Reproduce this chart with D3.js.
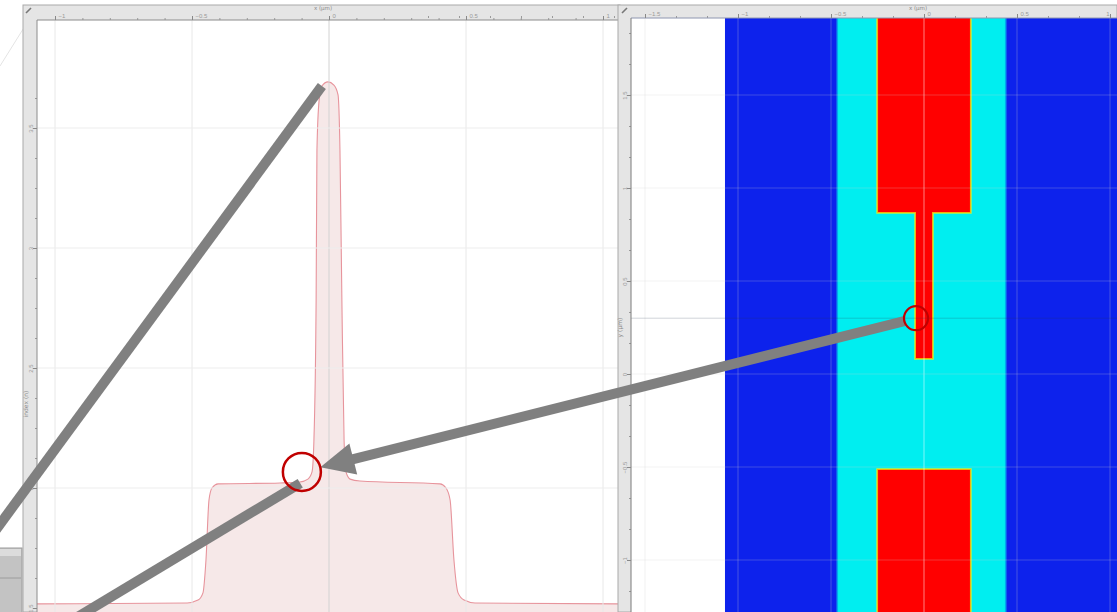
<!DOCTYPE html>
<html>
<head>
<meta charset="utf-8">
<script src="https://cdn.jsdelivr.net/npm/d3@7/dist/d3.min.js"></script>
<style>
  body { margin: 0; background: #fff; }
  svg { display: block; font-family: "DejaVu Sans", sans-serif; }
</style>
</head>
<body>
<div id="chart"></div>
<script>
// cross-section of the index along the cut line (x in um, n)
var profileX = [-1.066, -0.518, -0.478, -0.460, -0.449, -0.438, -0.427, -0.405, -0.179, -0.106,
  -0.077, -0.062, -0.055, -0.047, -0.044, -0.036, -0.026, -0.004, 0.018, 0.033, 0.040, 0.047,
  0.055, 0.062, 0.077, 0.113, 0.405, 0.427, 0.442, 0.456, 0.471, 0.493, 0.533, 1.062];
var profileN = [1.517, 1.521, 1.533, 1.563, 1.700, 1.950, 2.000, 2.017, 2.021, 2.025,
  2.037, 2.067, 2.200, 2.783, 3.408, 3.617, 3.675, 3.692, 3.679, 3.638, 3.408, 2.783,
  2.200, 2.067, 2.037, 2.029, 2.017, 2.000, 1.950, 1.700, 1.563, 1.533, 1.521, 1.517];

var lineTicksX = [-1, -0.5, 0, 0.5, 1];
var lineTicksN = [1.5, 2, 2.5, 3, 3.5];
var mapTicksX = [-1.5, -1, -0.5, 0, 0.5, 1];
var mapTicksY = [1.5, 1, 0.5, 0, -0.5, -1];

// structures seen in the index map (um)
var structName = ['cladding', 'core', 'top pad', 'stem', 'bottom pad'];
var structX0 = [-1.07, -0.462, -0.247, -0.043, -0.247];
var structX1 = [1.3, 0.435, 0.247, 0.043, 0.247];
var structY0 = [-1.5, -1.5, 0.871, 0.086, -1.5];
var structY1 = [2.1, 2.1, 2.1, 0.871, -0.516];
var structN = [1.517, 2.02, 3.69, 3.69, 3.69];

var cutY = 0.3;
var markLine = {x: -0.099, n: 2.067};
var markMap = {x: -0.043, y: 0.3};

var W = 1117, H = 612;
var svg = d3.select('#chart').append('svg').attr('width', W).attr('height', H);

var lp = {left: 37, top: 20, right: 618, bottom: 612};
var rp = {left: 631, top: 18, right: 1117, bottom: 612};

var xLine = d3.scaleLinear().domain([-1, 1]).range([55, 603]);
var yLine = d3.scaleLinear().domain([1.5, 3.5]).range([608, 128]);
var xMap = d3.scaleLinear().domain([-1.5, 1]).range([645, 1110]);
var yMap = d3.scaleLinear().domain([0, 1]).range([374, 188]);
var colorN = d3.scaleLinear()
    .domain([1.517, 2.02, 2.5, 3.05, 3.69])
    .range(['#0a22ec', '#04eef0', '#7dff80', '#ffe400', '#ff0500'])
    .clamp(true);
var fmt = d3.format('~g');

var defs = svg.append('defs');
defs.append('clipPath').attr('id', 'clipL').append('rect')
    .attr('x', lp.left).attr('y', lp.top)
    .attr('width', lp.right - lp.left).attr('height', lp.bottom - lp.top);
defs.append('clipPath').attr('id', 'clipR').append('rect')
    .attr('x', rp.left).attr('y', rp.top)
    .attr('width', rp.right - rp.left).attr('height', rp.bottom - rp.top);
defs.append('filter').attr('id', 'soft').append('feGaussianBlur').attr('stdDeviation', 0.7);

// faint stray line top-left
svg.append('line').attr('x1', 0).attr('y1', 66).attr('x2', 30).attr('y2', 18)
    .attr('stroke', '#e4e4e4').attr('stroke-width', 1);

function styleTickText(sel, vertical) {
  sel.attr('fill', '#9a9a9a').attr('font-size', 6);
  if (vertical) {
    sel.attr('transform', 'rotate(-90)').attr('x', 0).attr('y', -6).attr('text-anchor', 'middle');
  } else {
    sel.attr('x', 3).attr('y', -2).attr('text-anchor', 'start');
  }
}

// ---------- left panel: index profile ----------
var gL = svg.append('g');
gL.append('rect').attr('x', 23).attr('y', 5).attr('width', 597).attr('height', 607)
    .attr('fill', '#e5e5e5').attr('stroke', '#a9a9a9');
gL.append('rect').attr('x', lp.left).attr('y', lp.top)
    .attr('width', lp.right - lp.left + 2).attr('height', lp.bottom - lp.top)
    .attr('fill', '#fff');

var plotL = gL.append('g').attr('clip-path', 'url(#clipL)');
var pts = profileX.map(function (x, i) { return [x, profileN[i]]; });
var area = d3.area()
    .x(function (d) { return xLine(d[0]); })
    .y0(lp.bottom + 5)
    .y1(function (d) { return yLine(d[1]); })
    .curve(d3.curveMonotoneX);
var line = d3.line()
    .x(function (d) { return xLine(d[0]); })
    .y(function (d) { return yLine(d[1]); })
    .curve(d3.curveMonotoneX);
plotL.append('path').datum(pts).attr('d', area).attr('fill', '#f6e8e8');
plotL.append('path').datum(pts).attr('d', line)
    .attr('fill', 'none').attr('stroke', '#e7949c').attr('stroke-width', 1.1);

// grid on top, faint
plotL.selectAll('.gx').data(lineTicksX).enter().append('line')
    .attr('x1', xLine).attr('x2', xLine).attr('y1', lp.top).attr('y2', lp.bottom)
    .attr('stroke', function (d) { return d === 0 ? '#d2d2d2' : '#e8e8e8'; }).attr('stroke-width', 1);
plotL.selectAll('.gy').data(lineTicksN.slice(1)).enter().append('line')
    .attr('y1', yLine).attr('y2', yLine).attr('x1', lp.left).attr('x2', lp.right)
    .attr('stroke', '#ededed').attr('stroke-width', 1);

// axes (top and left)
var minorX = d3.range(-10, 11).map(function (i) { return i / 10; });
gL.append('g').attr('transform', 'translate(0,' + lp.top + ')')
    .call(d3.axisTop(xLine).tickValues(minorX).tickSize(2).tickFormat(''))
    .call(function (g) { g.select('.domain').remove(); g.selectAll('line').attr('stroke', '#9a9a9a'); });
var axTop = gL.append('g').attr('transform', 'translate(0,' + lp.top + ')')
    .call(d3.axisTop(xLine).tickValues(lineTicksX).tickSize(4).tickFormat(fmt));
axTop.select('.domain').attr('stroke', '#8c8c8c').attr('d', 'M' + lp.left + ',0H' + (lp.right + 2));
axTop.selectAll('line').attr('stroke', '#888');
styleTickText(axTop.selectAll('text'), false);

var minorN = d3.range(12, 30).map(function (i) { return i / 8; });
gL.append('g').attr('transform', 'translate(' + lp.left + ',0)')
    .call(d3.axisLeft(yLine).tickValues(minorN).tickSize(2).tickFormat(''))
    .call(function (g) { g.select('.domain').remove(); g.selectAll('line').attr('stroke', '#9a9a9a'); });
var axLeft = gL.append('g').attr('transform', 'translate(' + lp.left + ',0)')
    .call(d3.axisLeft(yLine).tickValues(lineTicksN).tickSize(4).tickFormat(fmt));
axLeft.select('.domain').attr('stroke', '#8c8c8c').attr('d', 'M0,' + lp.top + 'V' + lp.bottom);
axLeft.selectAll('line').attr('stroke', '#888');
styleTickText(axLeft.selectAll('text'), true);

gL.append('text').attr('x', xLine(0) - 6).attr('y', 10).attr('text-anchor', 'middle')
    .attr('font-size', 5.5).attr('fill', '#8a8a8a').text('x (µm)');
gL.append('text').attr('transform', 'translate(28,' + yLine(2.35) + ') rotate(-90)')
    .attr('text-anchor', 'middle').attr('font-size', 6).attr('fill', '#8a8a8a').text('index (n)');
gL.append('path').attr('d', 'M26,13 L31,8').attr('stroke', '#777').attr('stroke-width', 1.6);

// ---------- right panel: index map ----------
var gR = svg.append('g');
gR.append('rect').attr('x', 618).attr('y', 5).attr('width', 499).attr('height', 607)
    .attr('fill', '#e5e5e5').attr('stroke', '#a9a9a9');
gR.append('rect').attr('x', rp.left).attr('y', rp.top)
    .attr('width', rp.right - rp.left).attr('height', rp.bottom - rp.top).attr('fill', '#fff');

var plotR = gR.append('g').attr('clip-path', 'url(#clipR)');

// layers: halo passes smooth the edges like the interpolated map does
var layers = [];
structN.forEach(function (n, i) {
  var below = i === 0 ? null : d3.max(structN.filter(function (m) { return m < n; }));
  if (below != null) {
    layers.push({i: i, pass: 0, pad: 1.8, n: below + (n - below) * 0.42});
    layers.push({i: i, pass: 1, pad: 0.9, n: below + (n - below) * 0.72});
  }
  layers.push({i: i, pass: 2, pad: 0, n: n});
});
layers.sort(function (a, b) { return (structN[a.i] - structN[b.i]) || (a.pass - b.pass); });

var mapG = plotR.append('g').attr('filter', 'url(#soft)');
mapG.selectAll('rect.cell').data(layers).enter().append('rect')
    .attr('class', 'cell')
    .attr('x', function (d) { return xMap(structX0[d.i]) - d.pad; })
    .attr('y', function (d) { return yMap(structY1[d.i]) - d.pad; })
    .attr('width', function (d) { return xMap(structX1[d.i]) - xMap(structX0[d.i]) + 2 * d.pad; })
    .attr('height', function (d) { return yMap(structY0[d.i]) - yMap(structY1[d.i]) + 2 * d.pad; })
    .attr('fill', function (d) { return colorN(d.n); });

plotR.selectAll('.mgx').data(mapTicksX).enter().append('line')
    .attr('x1', xMap).attr('x2', xMap).attr('y1', rp.top).attr('y2', rp.bottom)
    .attr('stroke', function (d) { return d === 0 ? 'rgba(255,255,255,0.5)' : 'rgba(210,210,210,0.3)'; })
    .attr('stroke-width', 1);
plotR.selectAll('.mgy').data(mapTicksY).enter().append('line')
    .attr('y1', yMap).attr('y2', yMap).attr('x1', rp.left).attr('x2', rp.right)
    .attr('stroke', 'rgba(210,210,210,0.25)').attr('stroke-width', 1);
plotR.append('line').attr('x1', rp.left).attr('x2', rp.right)
    .attr('y1', yMap(cutY)).attr('y2', yMap(cutY))
    .attr('stroke', 'rgba(40,60,80,0.22)').attr('stroke-width', 1);

var minorMX = d3.range(-16, 11).map(function (i) { return i / 6; });
gR.append('g').attr('transform', 'translate(0,' + rp.top + ')')
    .call(d3.axisTop(xMap).tickValues(minorMX).tickSize(2).tickFormat(''))
    .call(function (g) { g.select('.domain').remove(); g.selectAll('line').attr('stroke', '#9a9a9a'); });
var axTopR = gR.append('g').attr('transform', 'translate(0,' + rp.top + ')')
    .call(d3.axisTop(xMap).tickValues(mapTicksX).tickSize(4).tickFormat(fmt));
axTopR.select('.domain').attr('stroke', '#8e96b0').attr('d', 'M' + rp.left + ',0H' + rp.right);
axTopR.selectAll('line').attr('stroke', '#888');
styleTickText(axTopR.selectAll('text'), false);
axTopR.selectAll('text').filter(function (d) { return d === 1; })
    .attr('x', -1).attr('text-anchor', 'end');

var minorMY = d3.range(-8, 12).map(function (i) { return i / 6; });
gR.append('g').attr('transform', 'translate(' + rp.left + ',0)')
    .call(d3.axisLeft(yMap).tickValues(minorMY).tickSize(2).tickFormat(''))
    .call(function (g) { g.select('.domain').remove(); g.selectAll('line').attr('stroke', '#9a9a9a'); });
var axLeftR = gR.append('g').attr('transform', 'translate(' + rp.left + ',0)')
    .call(d3.axisLeft(yMap).tickValues(mapTicksY).tickSize(4).tickFormat(fmt));
axLeftR.select('.domain').attr('stroke', '#7a7a7a').attr('d', 'M0,' + rp.top + 'V' + rp.bottom);
axLeftR.selectAll('line').attr('stroke', '#888');
styleTickText(axLeftR.selectAll('text'), true);

gR.append('text').attr('x', xMap(0) - 6).attr('y', 10).attr('text-anchor', 'middle')
    .attr('font-size', 5.5).attr('fill', '#8a8a8a').text('x (µm)');
gR.append('text').attr('transform', 'translate(622,' + yMap(0.25) + ') rotate(-90)')
    .attr('text-anchor', 'middle').attr('font-size', 6).attr('fill', '#8a8a8a').text('y (µm)');
gR.append('path').attr('d', 'M622,13 L627,8').attr('stroke', '#777').attr('stroke-width', 1.6);

// ---------- window chrome bottom-left ----------
var ui = svg.append('g');
ui.append('rect').attr('x', -1).attr('y', 548).attr('width', 23).attr('height', 66)
    .attr('fill', '#c3c3c3').attr('stroke', '#9c9c9c');
ui.append('rect').attr('x', 0).attr('y', 549).attr('width', 21).attr('height', 7).attr('fill', '#dcdcdc');
ui.append('line').attr('x1', 0).attr('x2', 21).attr('y1', 578).attr('y2', 578).attr('stroke', '#9c9c9c');

// ---------- annotations ----------
var ann = svg.append('g');
var grey = '#808080';

function ray(x0, y0, angleDeg, len) {
  var a = angleDeg * Math.PI / 180;
  return [x0, y0, x0 + Math.cos(a) * len, y0 + Math.sin(a) * len];
}

var r1 = ray(xLine(-0.026), yLine(3.675), 126.3, 700);
ann.append('line').attr('x1', r1[0]).attr('y1', r1[1]).attr('x2', r1[2]).attr('y2', r1[3])
    .attr('stroke', grey).attr('stroke-width', 10);
var r2 = ray(xLine(-0.105), yLine(2.02), 149, 400);
ann.append('line').attr('x1', r2[0]).attr('y1', r2[1]).attr('x2', r2[2]).attr('y2', r2[3])
    .attr('stroke', grey).attr('stroke-width', 10);

var cL = [xLine(markLine.x), yLine(markLine.n)], rL = 19;
var cR = [xMap(markMap.x), yMap(markMap.y)], rR = 12;
var dx = cL[0] - cR[0], dy = cL[1] - cR[1], dist = Math.sqrt(dx * dx + dy * dy);
var ux = dx / dist, uy = dy / dist;
var start = [cR[0] + ux * rR, cR[1] + uy * rR];
var tip = [cL[0] - ux * rL, cL[1] - uy * rL];
var headLen = 34, headHalf = 16;
var base = [tip[0] - ux * headLen, tip[1] - uy * headLen];
ann.append('line').attr('x1', start[0]).attr('y1', start[1])
    .attr('x2', base[0] + ux * 2).attr('y2', base[1] + uy * 2)
    .attr('stroke', grey).attr('stroke-width', 10);
ann.append('path')
    .attr('d', 'M' + tip[0] + ',' + tip[1] +
      'L' + (base[0] - uy * headHalf) + ',' + (base[1] + ux * headHalf) +
      'L' + (base[0] + uy * headHalf) + ',' + (base[1] - ux * headHalf) + 'Z')
    .attr('fill', grey);

ann.append('circle').attr('cx', cL[0]).attr('cy', cL[1]).attr('r', rL)
    .attr('fill', 'none').attr('stroke', '#c00000').attr('stroke-width', 2.5);
ann.append('circle').attr('cx', cR[0]).attr('cy', cR[1]).attr('r', rR)
    .attr('fill', 'none').attr('stroke', '#c00000').attr('stroke-width', 2.2);
</script>
</body>
</html>
